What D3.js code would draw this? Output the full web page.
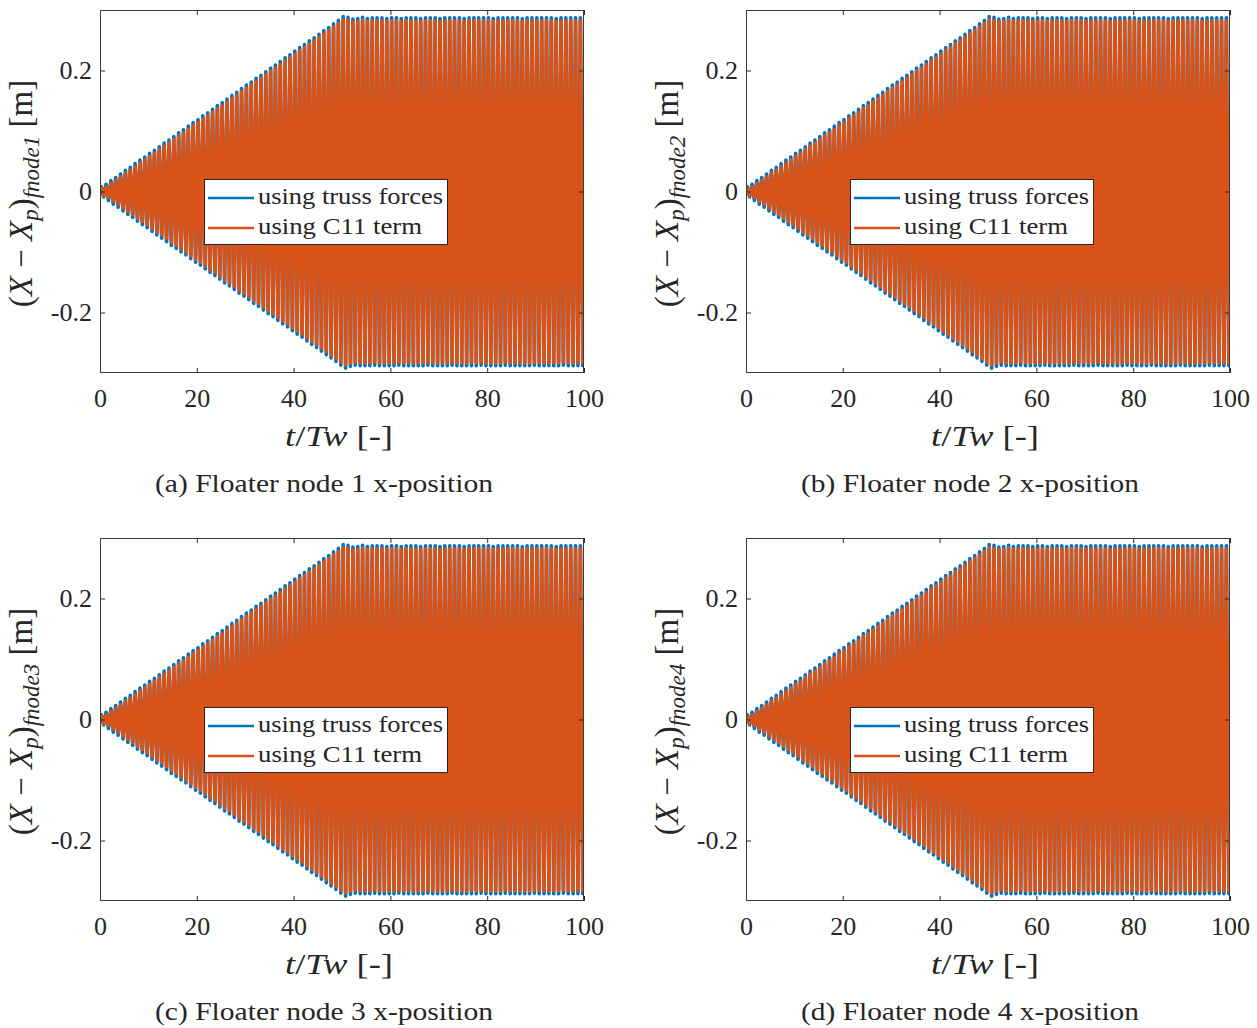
<!DOCTYPE html>
<html>
<head>
<meta charset="utf-8">
<script src="https://cdn.jsdelivr.net/npm/d3@7"></script>
<style>
  html, body { margin: 0; padding: 0; background: #fff; }
  svg { display: block; }
  text { font-family: "Liberation Serif", "Times New Roman", Times, serif; fill: #262626; }
</style>
</head>
<body>
<svg id="chart" width="1257" height="1028"></svg>
<script>
// ---------------- DATA ----------------
// Time axis: t/Tw, one wave cycle per unit, 100 cycles.
const xTicks = [0, 20, 40, 60, 80, 100];
const yTicks = [-0.2, 0, 0.2];
const yTickLabels = ["-0.2", "0", "0.2"];
const seriesNames = ["using truss forces", "using C11 term"];

// Peak (crest) value of each cycle, C11 term (orange)
const c11Upper = [
  0.005, 0.007, 0.013, 0.018, 0.024, 0.030, 0.035, 0.041, 0.047, 0.052,
  0.058, 0.063, 0.069, 0.075, 0.080, 0.086, 0.092, 0.097, 0.103, 0.109,
  0.114, 0.120, 0.125, 0.131, 0.137, 0.142, 0.148, 0.154, 0.159, 0.165,
  0.171, 0.176, 0.182, 0.187, 0.193, 0.199, 0.204, 0.210, 0.216, 0.221,
  0.227, 0.233, 0.238, 0.244, 0.249, 0.255, 0.261, 0.266, 0.272, 0.278,
  0.284, 0.283, 0.280, 0.281, 0.283, 0.281, 0.282, 0.282, 0.282, 0.281,
  0.282, 0.282, 0.281, 0.282, 0.282, 0.282, 0.281, 0.282, 0.282, 0.282,
  0.281, 0.282, 0.282, 0.282, 0.282, 0.281, 0.282, 0.282, 0.282, 0.282,
  0.282, 0.281, 0.282, 0.282, 0.282, 0.282, 0.282, 0.281, 0.282, 0.282,
  0.282, 0.282, 0.282, 0.282, 0.281, 0.282, 0.282, 0.282, 0.282, 0.282
];
// Trough value of each cycle, C11 term (orange)
const c11Lower = [
  -0.006, -0.010, -0.016, -0.021, -0.027, -0.033, -0.038, -0.044, -0.050, -0.055,
  -0.061, -0.067, -0.072, -0.078, -0.084, -0.089, -0.095, -0.100, -0.106, -0.112,
  -0.117, -0.123, -0.129, -0.134, -0.140, -0.146, -0.151, -0.157, -0.163, -0.168,
  -0.174, -0.180, -0.185, -0.191, -0.197, -0.202, -0.208, -0.214, -0.219, -0.225,
  -0.231, -0.236, -0.242, -0.248, -0.253, -0.259, -0.265, -0.270, -0.276, -0.282,
  -0.287, -0.284, -0.282, -0.283, -0.283, -0.283, -0.282, -0.283, -0.283, -0.283,
  -0.283, -0.282, -0.283, -0.283, -0.283, -0.283, -0.283, -0.282, -0.283, -0.283,
  -0.283, -0.283, -0.282, -0.283, -0.283, -0.283, -0.283, -0.283, -0.282, -0.283,
  -0.283, -0.283, -0.283, -0.282, -0.283, -0.283, -0.283, -0.283, -0.283, -0.282,
  -0.283, -0.283, -0.283, -0.283, -0.283, -0.282, -0.283, -0.283, -0.283, -0.283
];
// Peak value of each cycle, truss forces (blue)
const trussUpper = [
  0.008, 0.012, 0.018, 0.023, 0.029, 0.035, 0.040, 0.046, 0.052, 0.057,
  0.063, 0.068, 0.074, 0.080, 0.085, 0.091, 0.097, 0.102, 0.108, 0.114,
  0.119, 0.125, 0.130, 0.136, 0.142, 0.147, 0.153, 0.159, 0.164, 0.170,
  0.176, 0.181, 0.187, 0.192, 0.198, 0.204, 0.209, 0.215, 0.221, 0.226,
  0.232, 0.238, 0.243, 0.249, 0.254, 0.260, 0.266, 0.271, 0.277, 0.283,
  0.289, 0.288, 0.285, 0.286, 0.288, 0.286, 0.287, 0.287, 0.287, 0.286,
  0.287, 0.287, 0.286, 0.287, 0.287, 0.287, 0.286, 0.287, 0.287, 0.287,
  0.286, 0.287, 0.287, 0.287, 0.287, 0.286, 0.287, 0.287, 0.287, 0.287,
  0.287, 0.286, 0.287, 0.287, 0.287, 0.287, 0.287, 0.286, 0.287, 0.287,
  0.287, 0.287, 0.287, 0.287, 0.286, 0.287, 0.287, 0.287, 0.287, 0.287
];
// Trough value of each cycle, truss forces (blue)
const trussLower = [
  -0.009, -0.015, -0.021, -0.026, -0.032, -0.038, -0.043, -0.049, -0.055, -0.060,
  -0.066, -0.072, -0.077, -0.083, -0.089, -0.094, -0.100, -0.105, -0.111, -0.117,
  -0.122, -0.128, -0.134, -0.139, -0.145, -0.151, -0.156, -0.162, -0.168, -0.173,
  -0.179, -0.185, -0.190, -0.196, -0.202, -0.207, -0.213, -0.219, -0.224, -0.230,
  -0.236, -0.241, -0.247, -0.253, -0.258, -0.264, -0.270, -0.275, -0.281, -0.287,
  -0.292, -0.289, -0.287, -0.288, -0.288, -0.288, -0.287, -0.288, -0.288, -0.288,
  -0.288, -0.287, -0.288, -0.288, -0.288, -0.288, -0.288, -0.287, -0.288, -0.288,
  -0.288, -0.288, -0.287, -0.288, -0.288, -0.288, -0.288, -0.288, -0.287, -0.288,
  -0.288, -0.288, -0.288, -0.287, -0.288, -0.288, -0.288, -0.288, -0.288, -0.287,
  -0.288, -0.288, -0.288, -0.288, -0.288, -0.287, -0.288, -0.288, -0.288, -0.288
];

// Panels (all four nodes show visually identical traces)
const panelNodes = ["1", "2", "3", "4"];
const panelLetters = ["a", "b", "c", "d"];

// ---------------- LAYOUT ----------------
const colors = { truss: "#0072BD", c11: "#D95319" };
const serif = '"Liberation Serif", "Times New Roman", Times, serif';
const plotW = 484, plotH = 363;
const origins = [[100, 10], [746, 10], [100, 538], [746, 538]];

const svg = d3.select("#chart");

function buildPoints(upper, lower) {
  const pts = [{ t: 0, v: 0 }];
  upper.forEach((u, k) => {
    pts.push({ t: k + 0.25, v: u });
    pts.push({ t: k + 0.75, v: lower[k] });
  });
  pts.push({ t: 100, v: 0 });
  return pts;
}
const trussPts = buildPoints(trussUpper, trussLower);
const c11Pts = buildPoints(c11Upper, c11Lower);

panelNodes.forEach((node, i) => {
  const [ox, oy] = origins[i];
  const x = d3.scaleLinear().domain([0, 100]).range([ox, ox + plotW]);
  const y = d3.scaleLinear().domain([-0.3, 0.3]).range([oy + plotH, oy]);
  const g = svg.append("g");

  const clipId = "clip" + i;
  g.append("clipPath").attr("id", clipId)
    .append("rect").attr("x", ox).attr("y", oy).attr("width", plotW).attr("height", plotH);

  const line = d3.line().x(d => x(d.t)).y(d => y(d.v));
  const lines = g.append("g").attr("clip-path", `url(#${clipId})`);
  lines.append("path").datum(trussPts).attr("d", line)
    .attr("fill", "none").attr("stroke", colors.truss).attr("stroke-width", 3.6)
    .attr("stroke-linejoin", "round").attr("stroke-linecap", "round");
  lines.append("path").datum(c11Pts).attr("d", line)
    .attr("fill", "none").attr("stroke", colors.c11).attr("stroke-width", 3.6)
    .attr("stroke-linejoin", "round").attr("stroke-linecap", "round");

  // axes (ticks inward, box on)
  const axStyle = sel => {
    sel.attr("font-family", null).attr("font-size", null);
    sel.selectAll(".domain").remove();
    sel.selectAll(".tick line").attr("stroke", "#262626");
    sel.selectAll(".tick text").style("font-family", serif)
      .style("font-size", "26px").attr("fill", "#262626");
  };
  g.append("g").attr("transform", `translate(0,${oy + plotH})`)
    .call(d3.axisBottom(x).tickValues(xTicks).tickSizeInner(-5).tickSizeOuter(0).tickPadding(16).tickFormat(d3.format("d")))
    .call(axStyle);
  g.append("g").attr("transform", `translate(0,${oy})`)
    .call(d3.axisTop(x).tickValues(xTicks).tickSizeInner(-5).tickSizeOuter(0).tickFormat(""))
    .call(axStyle);
  g.append("g").attr("transform", `translate(${ox},0)`)
    .call(d3.axisLeft(y).tickValues(yTicks).tickSizeInner(-5).tickSizeOuter(0).tickPadding(8)
      .tickFormat((d, j) => yTickLabels[j]))
    .call(axStyle);
  g.append("g").attr("transform", `translate(${ox + plotW},0)`)
    .call(d3.axisRight(y).tickValues(yTicks).tickSizeInner(-5).tickSizeOuter(0).tickFormat(""))
    .call(axStyle);

  g.append("rect").attr("x", ox + 0.5).attr("y", oy + 0.5).attr("width", plotW - 1).attr("height", plotH - 1)
    .attr("fill", "none").attr("stroke", "#3a3a3a").attr("stroke-width", 1);

  // legend
  const lg = g.append("g").attr("transform", `translate(${ox + 104},${oy + 169})`);
  lg.append("rect").attr("x", 0.5).attr("y", 0.5).attr("width", 243).attr("height", 65)
    .attr("fill", "#fff").attr("stroke", "#262626").attr("stroke-width", 1);
  const legendColors = [colors.truss, colors.c11];
  const legendWidths = [185, 164];
  seriesNames.forEach((name, j) => {
    const ly = 19 + j * 30;
    lg.append("line").attr("x1", 4).attr("x2", 50).attr("y1", ly).attr("y2", ly)
      .attr("stroke", legendColors[j]).attr("stroke-width", 2.6);
    lg.append("text").attr("x", 54).attr("y", ly + 6)
      .attr("textLength", legendWidths[j]).attr("lengthAdjust", "spacingAndGlyphs")
      .style("font-family", serif).style("font-size", "24px").attr("fill", "#000").text(name);
  });

  // x label
  const xl = g.append("text").attr("x", ox + plotW / 2 - 3).attr("y", oy + 436)
    .attr("text-anchor", "middle").style("font-family", serif).style("font-size", "30px").attr("fill", "#000")
    .attr("textLength", 108).attr("lengthAdjust", "spacingAndGlyphs");
  xl.append("tspan").style("font-style", "italic").text("t");
  xl.append("tspan").text("/");
  xl.append("tspan").style("font-style", "italic").text("Tw");
  xl.append("tspan").text(" [-]");

  // y label
  const yl = g.append("text")
    .attr("transform", `translate(${ox - 68},${oy + plotH / 2 + 2}) rotate(-90)`)
    .attr("text-anchor", "middle").style("font-family", serif).style("font-size", "33px").attr("fill", "#000");
  yl.append("tspan").text("(");
  yl.append("tspan").style("font-style", "italic").text("X");
  yl.append("tspan").text(" \u2212 ");
  yl.append("tspan").style("font-style", "italic").text("X");
  yl.append("tspan").style("font-style", "italic").style("font-size", "23px").attr("dy", 6).text("p");
  yl.append("tspan").attr("dy", -6).text(")");
  yl.append("tspan").style("font-style", "italic").style("font-size", "23px").attr("dy", 7).text("fnode" + node);
  yl.append("tspan").attr("dy", -7).text(" [m]");

  // caption
  g.append("text").attr("x", ox + plotW / 2 - 18).attr("y", oy + 482)
    .attr("text-anchor", "middle").style("font-family", serif).style("font-size", "25px").attr("fill", "#000")
    .attr("textLength", 338).attr("lengthAdjust", "spacingAndGlyphs")
    .text(`(${panelLetters[i]}) Floater node ${node} x-position`);
});
</script>
</body>
</html>
